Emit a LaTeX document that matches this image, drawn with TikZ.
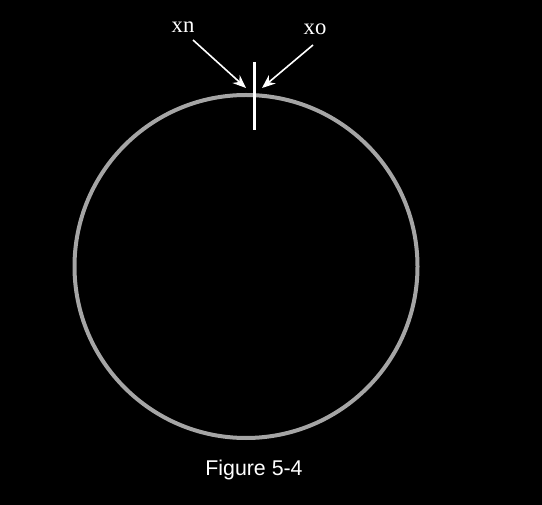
\documentclass[tikz,border=0pt]{standalone}
\usepackage{fontspec}
\setmainfont{Liberation Serif}
\newfontfamily\capfont{Liberation Sans}
\usetikzlibrary{arrows.meta}

\begin{document}
\begin{tikzpicture}[x=0.75pt,y=-0.75pt,
	lbl/.style={text=white, font=\fontsize{17}{17}\selectfont, inner sep=0pt},
	ptr/.style={white, line width=1.2pt, -{Stealth[length=10pt,width=8pt]}}]
			\fill[black] (0,0) rectangle (542,505);
			\useasboundingbox (0,0) rectangle (542,505);
			\draw[color={rgb,255:red,165;green,165;blue,165}, line width=3pt] (246,266.5) circle (171.5);
			%\draw[white] (246,266.5) -- (418,266.5);
			\coordinate (top) at (254.5,62);
			\coordinate (bot) at (254.5,130);
			\draw[white, line width=2.2pt] (top) -- (bot);
			\node[lbl] (xn) at (183,27){xn};
			\node[lbl] (xo) at (315,29){xo};
			\coordinate (xntail) at (193,40);
			\coordinate (xotail) at (313,45);
			\coordinate (xntip) at (246,88);
			\coordinate (xotip) at (262,88);
			\draw[ptr] (xntail) -- (xntip);
			\draw[ptr] (xotail) -- (xotip);
			\node[text=white, font=\capfont\fontsize{16}{16}\selectfont] (cap) at (254,470){Figure 5-4};
		\end{tikzpicture}
\end{document}
